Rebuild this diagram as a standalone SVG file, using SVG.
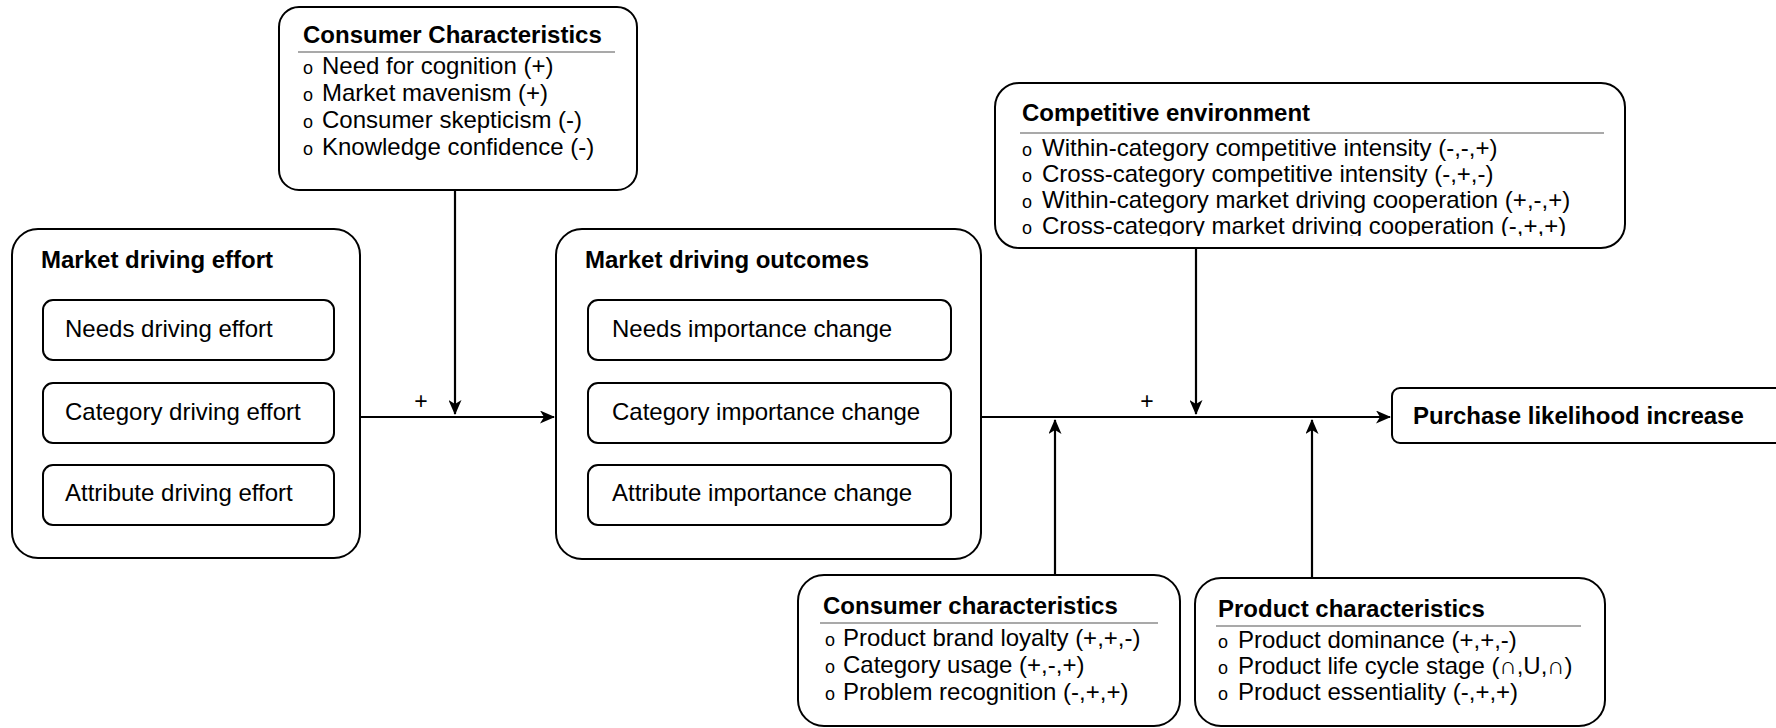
<svg xmlns="http://www.w3.org/2000/svg" width="1776" height="728" viewBox="0 0 1776 728">
<style>
.box{fill:#fff;stroke:#000;stroke-width:2}
.t{font-family:"Liberation Sans",Arial,Helvetica,sans-serif;font-size:24px;fill:#000}
.b{font-weight:bold}
.o{font-family:"Liberation Sans",Arial,sans-serif;font-size:18px;fill:#000}
.p{font-family:"Liberation Sans",Arial,sans-serif;font-size:23px;fill:#000}
.sep{stroke:#555;stroke-width:1.2}
.ln{stroke:#000;stroke-width:2.2;fill:none}
</style>
<defs>
<marker id="ar" markerWidth="15" markerHeight="13" refX="14" refY="6.5" orient="auto" markerUnits="userSpaceOnUse"><path d="M0,0 L15,6.5 L0,13 L4,6.5 Z" fill="#000"/></marker>
<clipPath id="cc"><rect x="990" y="80" width="640" height="156"/></clipPath>
</defs>
<rect width="1776" height="728" fill="#fff"/>

<g id="connectors">
<line class="ln" x1="360" y1="417" x2="554" y2="417" marker-end="url(#ar)"/>
<line class="ln" x1="455" y1="190" x2="455" y2="414" marker-end="url(#ar)"/>
<line class="ln" x1="981" y1="417" x2="1390" y2="417" marker-end="url(#ar)"/>
<line class="ln" x1="1196" y1="248" x2="1196" y2="414" marker-end="url(#ar)"/>
<line class="ln" x1="1055" y1="575" x2="1055" y2="420" marker-end="url(#ar)"/>
<line class="ln" x1="1312" y1="578" x2="1312" y2="420" marker-end="url(#ar)"/>
<text class="p" x="421" y="409" text-anchor="middle">+</text>
<text class="p" x="1147" y="409" text-anchor="middle">+</text>
</g>

<g id="consumer-characteristics-top">
<rect class="box" x="279" y="7" width="358" height="183" rx="20"/>
<text class="t b" x="303" y="43">Consumer Characteristics</text>
<line class="sep" x1="298" y1="52" x2="615" y2="52"/>
<text class="o" x="303" y="74">o</text><text class="t" x="322" y="74">Need for cognition (+)</text>
<text class="o" x="303" y="101">o</text><text class="t" x="322" y="101">Market mavenism (+)</text>
<text class="o" x="303" y="128">o</text><text class="t" x="322" y="128">Consumer skepticism (-)</text>
<text class="o" x="303" y="155">o</text><text class="t" x="322" y="155">Knowledge confidence (-)</text>
</g>

<g id="competitive-environment">
<rect class="box" x="995" y="83" width="630" height="165" rx="24"/>
<text class="t b" x="1022" y="121">Competitive environment</text>
<line class="sep" x1="1020" y1="133" x2="1604" y2="133"/>
<g clip-path="url(#cc)">
<text class="o" x="1022" y="156">o</text><text class="t" x="1042" y="156">Within-category competitive intensity (-,-,+)</text>
<text class="o" x="1022" y="182">o</text><text class="t" x="1042" y="182">Cross-category competitive intensity (-,+,-)</text>
<text class="o" x="1022" y="208">o</text><text class="t" x="1042" y="208">Within-category market driving cooperation (+,-,+)</text>
<text class="o" x="1022" y="234">o</text><text class="t" x="1042" y="234">Cross-category market driving cooperation (-,+,+)</text>
</g>
</g>

<g id="market-driving-effort">
<rect class="box" x="12" y="229" width="348" height="329" rx="26"/>
<text class="t b" x="41" y="268">Market driving effort</text>
<rect class="box" x="43" y="300" width="291" height="60" rx="10"/>
<text class="t" x="65" y="337">Needs driving effort</text>
<rect class="box" x="43" y="383" width="291" height="60" rx="10"/>
<text class="t" x="65" y="420">Category driving effort</text>
<rect class="box" x="43" y="465" width="291" height="60" rx="10"/>
<text class="t" x="65" y="501">Attribute driving effort</text>
</g>

<g id="market-driving-outcomes">
<rect class="box" x="556" y="229" width="425" height="330" rx="26"/>
<text class="t b" x="585" y="268">Market driving outcomes</text>
<rect class="box" x="588" y="300" width="363" height="60" rx="10"/>
<text class="t" x="612" y="337">Needs importance change</text>
<rect class="box" x="588" y="383" width="363" height="60" rx="10"/>
<text class="t" x="612" y="420">Category importance change</text>
<rect class="box" x="588" y="465" width="363" height="60" rx="10"/>
<text class="t" x="612" y="501">Attribute importance change</text>
</g>

<g id="purchase-likelihood-increase">
<rect class="box" x="1392" y="388" width="430" height="55" rx="8"/>
<text class="t b" x="1413" y="424">Purchase likelihood increase</text>
</g>

<g id="consumer-characteristics-bottom">
<rect class="box" x="798" y="575" width="382" height="151" rx="26"/>
<text class="t b" x="823" y="614">Consumer characteristics</text>
<line class="sep" x1="820" y1="623" x2="1158" y2="623"/>
<text class="o" x="825" y="646">o</text><text class="t" x="843" y="646">Product brand loyalty (+,+,-)</text>
<text class="o" x="825" y="673">o</text><text class="t" x="843" y="673">Category usage (+,-,+)</text>
<text class="o" x="825" y="700">o</text><text class="t" x="843" y="700">Problem recognition (-,+,+)</text>
</g>

<g id="product-characteristics">
<rect class="box" x="1195" y="578" width="410" height="148" rx="26"/>
<text class="t b" x="1218" y="617">Product characteristics</text>
<line class="sep" x1="1216" y1="626" x2="1581" y2="626"/>
<text class="o" x="1218" y="648">o</text><text class="t" x="1238" y="648">Product dominance (+,+,-)</text>
<text class="o" x="1218" y="674">o</text><text class="t" x="1238" y="674">Product life cycle stage (∩,U,∩)</text>
<text class="o" x="1218" y="700">o</text><text class="t" x="1238" y="700">Product essentiality (-,+,+)</text>
</g>
</svg>
